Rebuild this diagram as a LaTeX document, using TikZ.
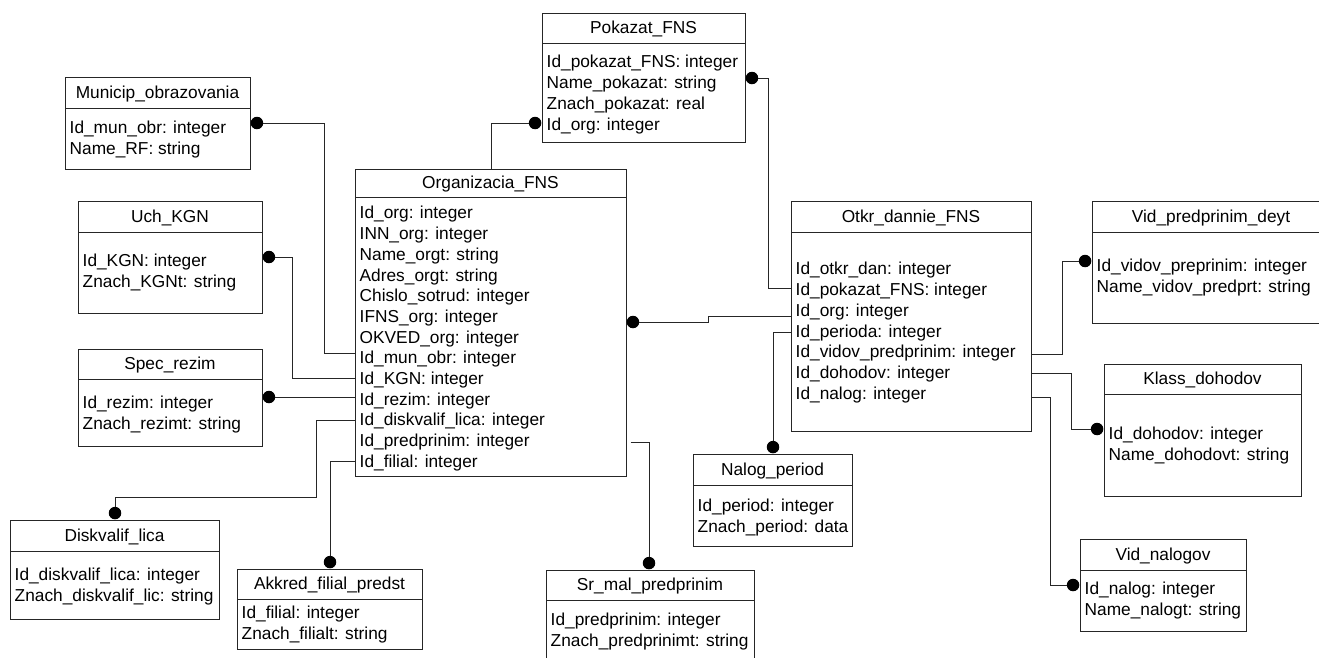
\documentclass[tikz,border=0pt]{standalone}
\usepackage{fontspec}
\setmainfont{Liberation Sans}
\usetikzlibrary{fit}

% \entity{name}{left}{top}{right}{bottom}{header rule y}{title}{first row y}{rows}
\newcommand\entity[9]{%
  \node[entitybox, fit={(#2,#3) (#4,#5)}] (#1) {};
  \draw[rule] (#2,#6) -- (#4,#6);
  \node[titletext] (#1-title) at ({(#2+#4)/2},{(#3+#6)/2}) {#7};
  \foreach \rowtxt [count=\i] in {#9}
    \node[rowtext] (#1-\i) at ({#2+4.5},{#8+(\i-1)*20.7}) {\rowtxt};
}

\begin{document}
\begin{tikzpicture}[x=1pt,y=-1pt,
  entitybox/.style={draw=black!85, line width=1pt, inner sep=0pt},
  rule/.style={draw=black!85, line width=1pt},
  titletext/.style={inner sep=0pt, font=\fontsize{17.3}{20.7}\selectfont,
    text height=12.4pt, text depth=3.6pt, yshift=-1.5pt},
  rowtext/.style={anchor=west, inner sep=0pt, font=\fontsize{17.3}{20.7}\selectfont,
    text height=12.4pt, text depth=3.6pt, yshift=-1.5pt},
  link/.style={draw=black!85, line width=1pt},
  dot/.style={circle, fill=black, inner sep=0pt, minimum size=12.5pt}]

\useasboundingbox (0,0) rectangle (1319,657);
\clip (0,0) rectangle (1319,657);
\fill[white] (0,0) rectangle (1319,657);

% ---- entities ----
\entity{mun}{65}{77}{250}{169}{108}{Municip\_obrazovania}{128}
  {Id\_mun\_obr: integer, Name\_RF: string}
\entity{kgn}{78}{201}{262}{313}{232}{Uch\_KGN}{261}
  {Id\_KGN: integer, Znach\_KGNt: string}
\entity{rez}{78}{349}{262}{446}{379}{Spec\_rezim}{403}
  {Id\_rezim: integer, Znach\_rezimt: string}
\entity{dsk}{10}{520}{219}{619}{551}{Diskvalif\_lica}{575}
  {Id\_diskvalif\_lica: integer, Znach\_diskvalif\_lic: string}
\entity{akk}{237}{569}{422}{649}{599}{Akkred\_filial\_predst}{613}
  {Id\_filial: integer, Znach\_filialt: string}
\entity{org}{355}{169}{626}{476}{197}{Organizacia\_FNS}{213}
  {Id\_org: integer, INN\_org: integer, Name\_orgt: string, Adres\_orgt: string,
   Chislo\_sotrud: integer, IFNS\_org: integer, OKVED\_org: integer,
   Id\_mun\_obr: integer, Id\_KGN: integer, Id\_rezim: integer,
   Id\_diskvalif\_lica: integer, Id\_predprinim: integer, Id\_filial: integer}
\entity{pok}{542}{13}{745}{142}{43}{Pokazat\_FNS}{62}
  {Id\_pokazat\_FNS: integer, Name\_pokazat: string, Znach\_pokazat: real, Id\_org: integer}
\entity{otk}{791}{201}{1031}{431}{232}{Otkr\_dannie\_FNS}{269}
  {Id\_otkr\_dan: integer, Id\_pokazat\_FNS: integer, Id\_org: integer,
   Id\_perioda: integer, Id\_vidov\_predprinim: integer, Id\_dohodov: integer,
   Id\_nalog: integer}
\entity{nal}{693}{454}{852}{546}{485}{Nalog\_period}{506}
  {Id\_period: integer, Znach\_period: data}
\entity{srm}{546}{570}{754}{680}{600}{Sr\_mal\_predprinim}{620}
  {Id\_predprinim: integer, Znach\_predprinimt: string}
\entity{vpd}{1092}{201}{1330}{323}{232}{Vid\_predprinim\_deyt}{266}
  {Id\_vidov\_preprinim: integer, Name\_vidov\_predprt: string}
\entity{kls}{1104}{364}{1301}{496}{394}{Klass\_dohodov}{434}
  {Id\_dohodov: integer, Name\_dohodovt: string}
\entity{vnl}{1080}{539}{1246}{631}{570}{Vid\_nalogov}{589}
  {Id\_nalog: integer, Name\_nalogt: string}

% ---- relationship end dots ----
\node[dot, anchor=west]  (d-mun)  at (mun.east |- 0,123) {};
\node[dot, anchor=west]  (d-kgn)  at (kgn.east |- 0,257) {};
\node[dot, anchor=west]  (d-rez)  at (rez.east |- 0,397) {};
\node[dot, anchor=south] (d-dsk)  at (115,0 |- dsk.north) {};
\node[dot, anchor=south] (d-akk)  at (330,0 |- akk.north) {};
\node[dot, anchor=east]  (d-pokl) at (pok.west |- 0,123) {};
\node[dot, anchor=west]  (d-pokr) at (pok.east |- 0,78) {};
\node[dot, anchor=west]  (d-org)  at (org.east |- 0,322) {};
\node[dot, anchor=south] (d-nal)  at (773,0 |- nal.north) {};
\node[dot, anchor=south] (d-srm)  at (649,0 |- srm.north) {};
\node[dot, anchor=east]  (d-vpd)  at (vpd.west |- 0,261) {};
\node[dot, anchor=east]  (d-kls)  at (kls.west |- 0,429) {};
\node[dot, anchor=east]  (d-vnl)  at (vnl.west |- 0,585) {};

% ---- connectors ----
\draw[link] (d-mun) -- (324,123) |- (org.west |- 0,353);
\draw[link] (d-kgn) -- (292,257) |- (org.west |- 0,378);
\draw[link] (d-rez) -- (org.west |- 0,397);
\draw[link] (d-dsk) |- (316,497) |- (org.west |- 0,420);
\draw[link] (d-akk) |- (org.west |- 0,461);
\draw[link] (d-pokl) -| (491,0 |- org.north);
\draw[link] (d-pokr) -| (768,288) -- (otk.west |- 0,288);
\draw[link] (d-org) -- (708,322) -- (708,316) -- (otk.west |- 0,316);
\draw[link] (otk.west |- 0,332) -| (d-nal);
\path (org.east |- 0,442) ++(4,0) coordinate (srm-src);
\draw[link] (srm-src) -| (d-srm);
\draw[link] (otk.east |- 0,354) -| (1062,261) -- (d-vpd);
\draw[link] (otk.east |- 0,373) -| (1071,429) -- (d-kls);
\draw[link] (otk.east |- 0,397) -| (1050,585) -- (d-vnl);

\end{tikzpicture}
\end{document}
